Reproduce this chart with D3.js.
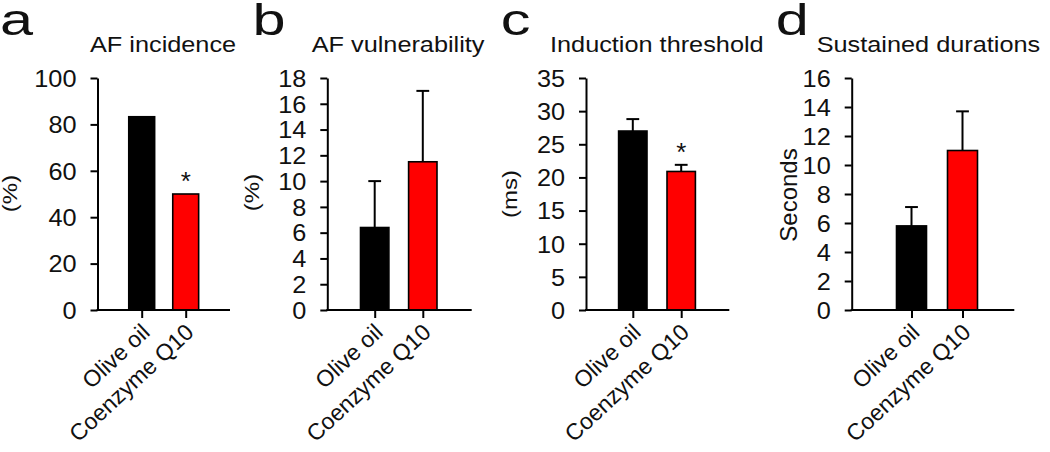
<!DOCTYPE html>
<html>
<head>
<meta charset="utf-8">
<script src="https://cdn.jsdelivr.net/npm/d3@7"></script>
<style>
  html, body { margin: 0; padding: 0; background: #fff; }
  svg { display: block; }
  text { font-family: "Liberation Sans", Arial, Helvetica, sans-serif; fill: #111; }
</style>
</head>
<body>
<svg id="chart" width="1050" height="452"></svg>
<script>
// ---- data ----
const categories = ["Olive oil", "Coenzyme Q10"];
const panelLetters = ["a", "b", "c", "d"];
const panelTitles = ["AF incidence", "AF vulnerability", "Induction threshold", "Sustained durations"];
const yLabels = ["(%)", "(%)", "(ms)", "Seconds"];

const incidence = [83.3, 50.0];
const vulnerability = [6.4, 11.5];
const vulnerabilitySEM = [3.6, 5.5];
const threshold = [27.0, 20.9];
const thresholdSEM = [1.8, 1.0];
const duration = [5.8, 11.0];
const durationSEM = [1.3, 2.7];

const incidenceSig = ["", "*"];
const vulnerabilitySig = ["", ""];
const thresholdSig = ["", "*"];
const durationSig = ["", ""];

const incidenceTicks = [0, 20, 40, 60, 80, 100];
const vulnerabilityTicks = [0, 2, 4, 6, 8, 10, 12, 14, 16, 18];
const thresholdTicks = [0, 5, 10, 15, 20, 25, 30, 35];
const durationTicks = [0, 2, 4, 6, 8, 10, 12, 14, 16];

const barColors = ["#000000", "#ff0000"];

// ---- layout (positions/styles only) ----
const yTop = 78, yBottom = 310;
const layout = [
  { axisX: 97.5, axisEnd: 230, c1: 141.7, c2: 185.7, bw: 27.5, letterX: 0, titleX: 90, ylabX: 17, ylabY: 193.5, ylabSquash: 0.85 },
  { axisX: 327.3, axisEnd: 471.7, c1: 374.7, c2: 422.8, bw: 30, letterX: 252.4, titleX: 311.7, ylabX: 259, ylabY: 192.5, ylabSquash: 0.85 },
  { axisX: 586, axisEnd: 729.3, c1: 632.8, c2: 681.2, bw: 30, letterX: 500.8, titleX: 550, ylabX: 517, ylabY: 194, ylabSquash: 0.85 },
  { axisX: 851.7, axisEnd: 1014.3, c1: 911.5, c2: 962.5, bw: 31.6, letterX: 775.8, titleX: 816.7, ylabX: 796.5, ylabY: 195, ylabSquash: 1 }
];

const series = [
  { values: incidence, sem: null, sig: incidenceSig, ticks: incidenceTicks },
  { values: vulnerability, sem: vulnerabilitySEM, sig: vulnerabilitySig, ticks: vulnerabilityTicks },
  { values: threshold, sem: thresholdSEM, sig: thresholdSig, ticks: thresholdTicks },
  { values: duration, sem: durationSEM, sig: durationSig, ticks: durationTicks }
];

const svg = d3.select("#chart");

series.forEach((s, i) => {
  const L = layout[i];
  const g = svg.append("g");

  const y = d3.scaleLinear()
    .domain([0, d3.max(s.ticks)])
    .range([yBottom, yTop]);

  const x = d3.scalePoint()
    .domain(categories)
    .range([L.c1, L.c2]);

  // panel letter
  g.append("text")
    .attr("transform", `translate(${L.letterX},35) scale(1.35,1)`)
    .style("font-size", "44px")
    .text(panelLetters[i]);

  // title
  g.append("text")
    .attr("transform", `translate(${L.titleX},51.7) scale(1.15,1)`)
    .style("font-size", "22px")
    .text(panelTitles[i]);

  // y label
  g.append("text")
    .attr("transform", `translate(${L.ylabX},${L.ylabY}) rotate(-90) scale(1,${L.ylabSquash})`)
    .attr("text-anchor", "middle")
    .style("font-size", "24px")
    .text(yLabels[i]);

  // bars
  g.selectAll("rect.bar")
    .data(s.values)
    .join("rect")
    .attr("class", "bar")
    .attr("x", (d, j) => x(categories[j]) - (L.bw - 1.6) / 2)
    .attr("width", L.bw - 1.6)
    .attr("y", d => y(d))
    .attr("height", d => y(0) - y(d))
    .attr("fill", (d, j) => barColors[j])
    .attr("stroke", "#000")
    .attr("stroke-width", 1.6);

  // error bars
  if (s.sem) {
    s.values.forEach((v, j) => {
      const cx = x(categories[j]);
      g.append("line")
        .attr("x1", cx).attr("x2", cx)
        .attr("y1", y(v)).attr("y2", y(v + s.sem[j]))
        .attr("stroke", "#000").attr("stroke-width", 2);
      g.append("line")
        .attr("x1", cx - 6.4).attr("x2", cx + 6.4)
        .attr("y1", y(v + s.sem[j])).attr("y2", y(v + s.sem[j]))
        .attr("stroke", "#000").attr("stroke-width", 2);
    });
  }

  // significance
  s.values.forEach((v, j) => {
    if (!s.sig[j]) return;
    const top = y(v + (s.sem ? s.sem[j] : 0));
    g.append("text")
      .attr("x", x(categories[j]))
      .attr("y", top - 4)
      .attr("text-anchor", "middle")
      .style("font-size", "26px")
      .text(s.sig[j]);
  });

  // y axis
  const yAxis = d3.axisLeft(y)
    .tickValues(s.ticks)
    .tickFormat(d3.format("d"))
    .tickSize(7)
    .tickSizeOuter(0)
    .tickPadding(14);
  const ya = g.append("g")
    .attr("transform", `translate(${L.axisX},0)`)
    .call(yAxis);
  ya.select(".domain").attr("stroke", "#000").attr("stroke-width", 2);
  ya.selectAll(".tick line").attr("stroke", "#000").attr("stroke-width", 2);
  ya.selectAll(".tick text")
    .attr("x", 0)
    .attr("transform", "translate(-21,0) scale(1.1,1)")
    .attr("fill", "#111")
    .style("font-size", "23px")
    .style("font-family", "'Liberation Sans', Arial, sans-serif")
    .attr("dy", "0.36em");

  // x axis line
  g.append("line")
    .attr("x1", L.axisX - 1).attr("x2", L.axisEnd)
    .attr("y1", yBottom).attr("y2", yBottom)
    .attr("stroke", "#000").attr("stroke-width", 2);

  // category ticks + rotated labels
  const xAxis = d3.axisBottom(x).tickSize(8).tickSizeOuter(0);
  const xa = g.append("g")
    .attr("transform", `translate(0,${yBottom})`)
    .call(xAxis);
  xa.select(".domain").remove();
  xa.selectAll(".tick line").attr("stroke", "#000").attr("stroke-width", 2);
  xa.selectAll(".tick text")
    .attr("x", null).attr("y", null).attr("dy", null)
    .attr("text-anchor", "end")
    .attr("transform", "translate(9,24) rotate(-43)")
    .attr("fill", "#111")
    .style("font-size", "23px")
    .style("font-family", "'Liberation Sans', Arial, sans-serif");
});
</script>
</body>
</html>
